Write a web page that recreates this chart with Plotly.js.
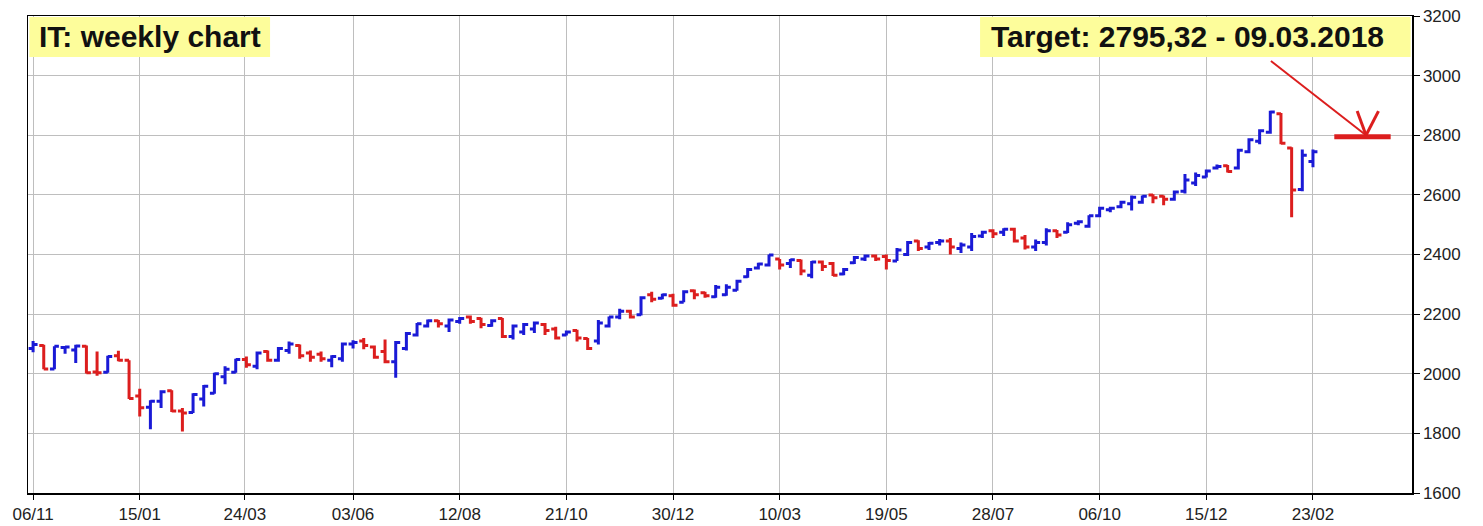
<!DOCTYPE html>
<html>
<head>
<meta charset="utf-8">
<script src="https://cdn.plot.ly/plotly-3.0.1.min.js"></script>
<style>html,body{margin:0;padding:0;background:#fff;}#chart{width:1483px;height:526px;}</style>
</head>
<body>
<div id="chart"></div>
<script>
// Weekly bars, starting Friday 2015-11-06
const startDate = '2015-11-06';
const openVals = [2085,2095,2016,2088,2080,2092,2006,2005,2060,2045,1925,1888,1908,1943,1875,1870,1915,1935,1990,2005,
2048,2025,2075,2045,2078,2095,2070,2065,2045,2050,2100,2110,2090,2075,2040,2085,2130,2160,2178,2160,
2175,2190,2185,2162,2185,2125,2140,2150,2165,2150,2130,2145,2118,2110,2160,2190,2210,2198,2265,2253,
2262,2240,2278,2272,2258,2265,2280,2325,2355,2365,2385,2370,2380,2330,2375,2370,2335,2372,2385,2395,
2393,2378,2400,2445,2425,2440,2445,2420,2425,2462,2480,2475,2485,2455,2425,2440,2480,2475,2505,2495,
2530,2550,2560,2570,2575,2600,2595,2585,2612,2640,2660,2690,2698,2690,2745,2780,2810,2872,2757,2618,2712];
const highVals = [2110,2097,2092,2093,2097,2095,2075,2060,2077,2045,1950,1911,1945,1945,1885,1935,1962,2003,2025,2050,
2058,2075,2078,2090,2108,2098,2078,2075,2062,2105,2112,2120,2095,2115,2110,2140,2170,2182,2180,2185,
2190,2195,2188,2183,2187,2165,2170,2175,2170,2158,2145,2148,2120,2180,2192,2218,2215,2260,2275,2268,
2268,2280,2283,2275,2298,2300,2315,2355,2372,2400,2385,2385,2383,2378,2380,2375,2355,2395,2400,2400,
2400,2422,2445,2448,2442,2452,2455,2440,2472,2480,2485,2488,2490,2465,2450,2488,2482,2508,2515,2532,
2560,2560,2580,2598,2598,2602,2598,2615,2670,2675,2685,2702,2700,2755,2790,2820,2882,2875,2760,2752,2752];
const lowVals = [2072,2015,2015,2067,2036,2001,1993,2003,2042,1915,1857,1814,1885,1872,1806,1868,1890,1933,1965,2003,
2020,2015,2040,2040,2067,2050,2040,2040,2022,2040,2085,2082,2050,2035,1987,2078,2125,2155,2155,2140,
2168,2168,2153,2158,2120,2115,2130,2137,2130,2115,2128,2108,2080,2098,2155,2183,2185,2195,2240,2250,
2225,2240,2250,2255,2255,2262,2278,2322,2350,2360,2350,2355,2330,2320,2345,2328,2330,2368,2378,2378,
2350,2378,2395,2412,2415,2430,2400,2405,2412,2455,2455,2462,2440,2417,2412,2430,2455,2472,2498,2490,
2525,2542,2555,2548,2570,2572,2565,2580,2605,2630,2658,2685,2675,2685,2740,2770,2805,2770,2525,2612,2693];
const closeVals = [2098,2016,2092,2090,2093,2003,2003,2058,2045,1917,1886,1908,1940,1875,1868,1930,1958,2000,2015,2048,
2030,2070,2045,2085,2100,2060,2055,2050,2058,2100,2105,2095,2055,2040,2105,2135,2168,2178,2168,2180,
2185,2175,2165,2178,2125,2160,2165,2170,2145,2120,2140,2120,2085,2170,2190,2210,2190,2255,2250,2265,
2230,2275,2265,2262,2290,2290,2310,2350,2368,2398,2365,2382,2345,2375,2360,2330,2350,2390,2395,2385,
2380,2415,2440,2420,2438,2445,2425,2432,2460,2475,2470,2485,2445,2425,2440,2480,2465,2500,2510,2530,
2555,2555,2575,2592,2595,2590,2585,2610,2650,2665,2680,2695,2678,2750,2785,2815,2878,2773,2616,2733,2745];

const tickDates = ['2015-11-06','2016-01-15','2016-03-24','2016-06-03','2016-08-12','2016-10-21','2016-12-30',
'2017-03-10','2017-05-19','2017-07-28','2017-10-06','2017-12-15','2018-02-23'];
const tickLabels = ['06/11','15/01','24/03','03/06','12/08','21/10','30/12','10/03','19/05','28/07','06/10','15/12','23/02'];

const targetValue = 2795.32;
const targetDate = '2018-03-09';
const titleText = 'IT: weekly chart';
const targetText = 'Target: 2795,32 - 09.03.2018';

// weekly dates
const dates = [];
const t0 = new Date(startDate + 'T00:00:00Z').getTime();
for (let i = 0; i < closeVals.length; i++) {
  dates.push(new Date(t0 + i * 7 * 86400000).toISOString().slice(0, 10));
}

const BLUE = '#1a1ad6';
const RED = '#dc1e1e';

const trace = {
  type: 'ohlc',
  x: dates, open: openVals, high: highVals, low: lowVals, close: closeVals,
  increasing: {line: {color: BLUE, width: 3}},
  decreasing: {line: {color: RED, width: 3}},
  tickwidth: 0.42,
  hoverinfo: 'skip'
};

const font = {family: 'Liberation Sans, Arial, sans-serif', size: 17, color: '#222'};

const layout = {
  width: 1483, height: 526,
  margin: {l: 28, r: 71, t: 16, b: 33},
  paper_bgcolor: '#fff', plot_bgcolor: '#fff',
  showlegend: false,
  xaxis: {
    type: 'date',
    range: ['2015-11-02 16:00', '2018-04-29'],
    tickvals: tickDates, ticktext: tickLabels,
    ticks: 'outside', ticklen: 5, tickcolor: '#000', tickwidth: 1,
    showgrid: true, gridcolor: '#bebebe', gridwidth: 1,
    showline: true, linecolor: '#000', linewidth: 1.5, mirror: true,
    zeroline: false, rangeslider: {visible: false},
    tickfont: font, fixedrange: true
  },
  yaxis: {
    side: 'right',
    range: [1600, 3200], tick0: 1600, dtick: 200,
    ticks: 'outside', ticklen: 6, tickcolor: '#000', tickwidth: 1,
    showgrid: true, gridcolor: '#bebebe', gridwidth: 1,
    showline: true, linecolor: '#000', linewidth: 1.5, mirror: true,
    zeroline: false, tickfont: font, fixedrange: true
  },
  shapes: [
    {type: 'rect', xref: 'paper', yref: 'paper', x0: 0.001, x1: 0.1749, y0: 0.914, y1: 0.998,
     fillcolor: '#fdfd9b', line: {width: 0}, layer: 'above'},
    {type: 'rect', xref: 'paper', yref: 'paper', x0: 0.6879, x1: 0.999, y0: 0.914, y1: 0.998,
     fillcolor: '#fdfd9b', line: {width: 0}, layer: 'above'},
    {type: 'line', xref: 'x', yref: 'y', x0: targetDate, x1: '2018-04-15', y0: targetValue, y1: targetValue,
     line: {color: RED, width: 5}, layer: 'above'},
    {type: 'line', xref: 'x', yref: 'y', x0: '2018-01-26 10:00', y0: 3049, x1: '2018-03-29 20:00', y1: 2800,
     line: {color: RED, width: 2}, layer: 'above'},
    {type: 'line', xref: 'x', yref: 'y', x0: '2018-03-24', y0: 2881, x1: '2018-03-29 20:00', y1: 2800,
     line: {color: RED, width: 3}, layer: 'above'},
    {type: 'line', xref: 'x', yref: 'y', x0: '2018-04-07', y0: 2881, x1: '2018-03-29 20:00', y1: 2800,
     line: {color: RED, width: 3}, layer: 'above'}
  ],
  annotations: [
    {text: titleText, xref: 'paper', yref: 'paper', x: 0.0065, y: 0.956, xanchor: 'left', yanchor: 'middle',
     showarrow: false, font: {family: 'Liberation Sans, Arial, sans-serif', size: 30, color: '#111', weight: 'bold'}},
    {text: targetText, xref: 'paper', yref: 'paper', x: 0.6944, y: 0.956, xanchor: 'left', yanchor: 'middle',
     showarrow: false, font: {family: 'Liberation Sans, Arial, sans-serif', size: 30, color: '#111', weight: 'bold'}}
  ]
};

Plotly.newPlot('chart', [trace], layout, {staticPlot: true, displayModeBar: false});
</script>
</body>
</html>
